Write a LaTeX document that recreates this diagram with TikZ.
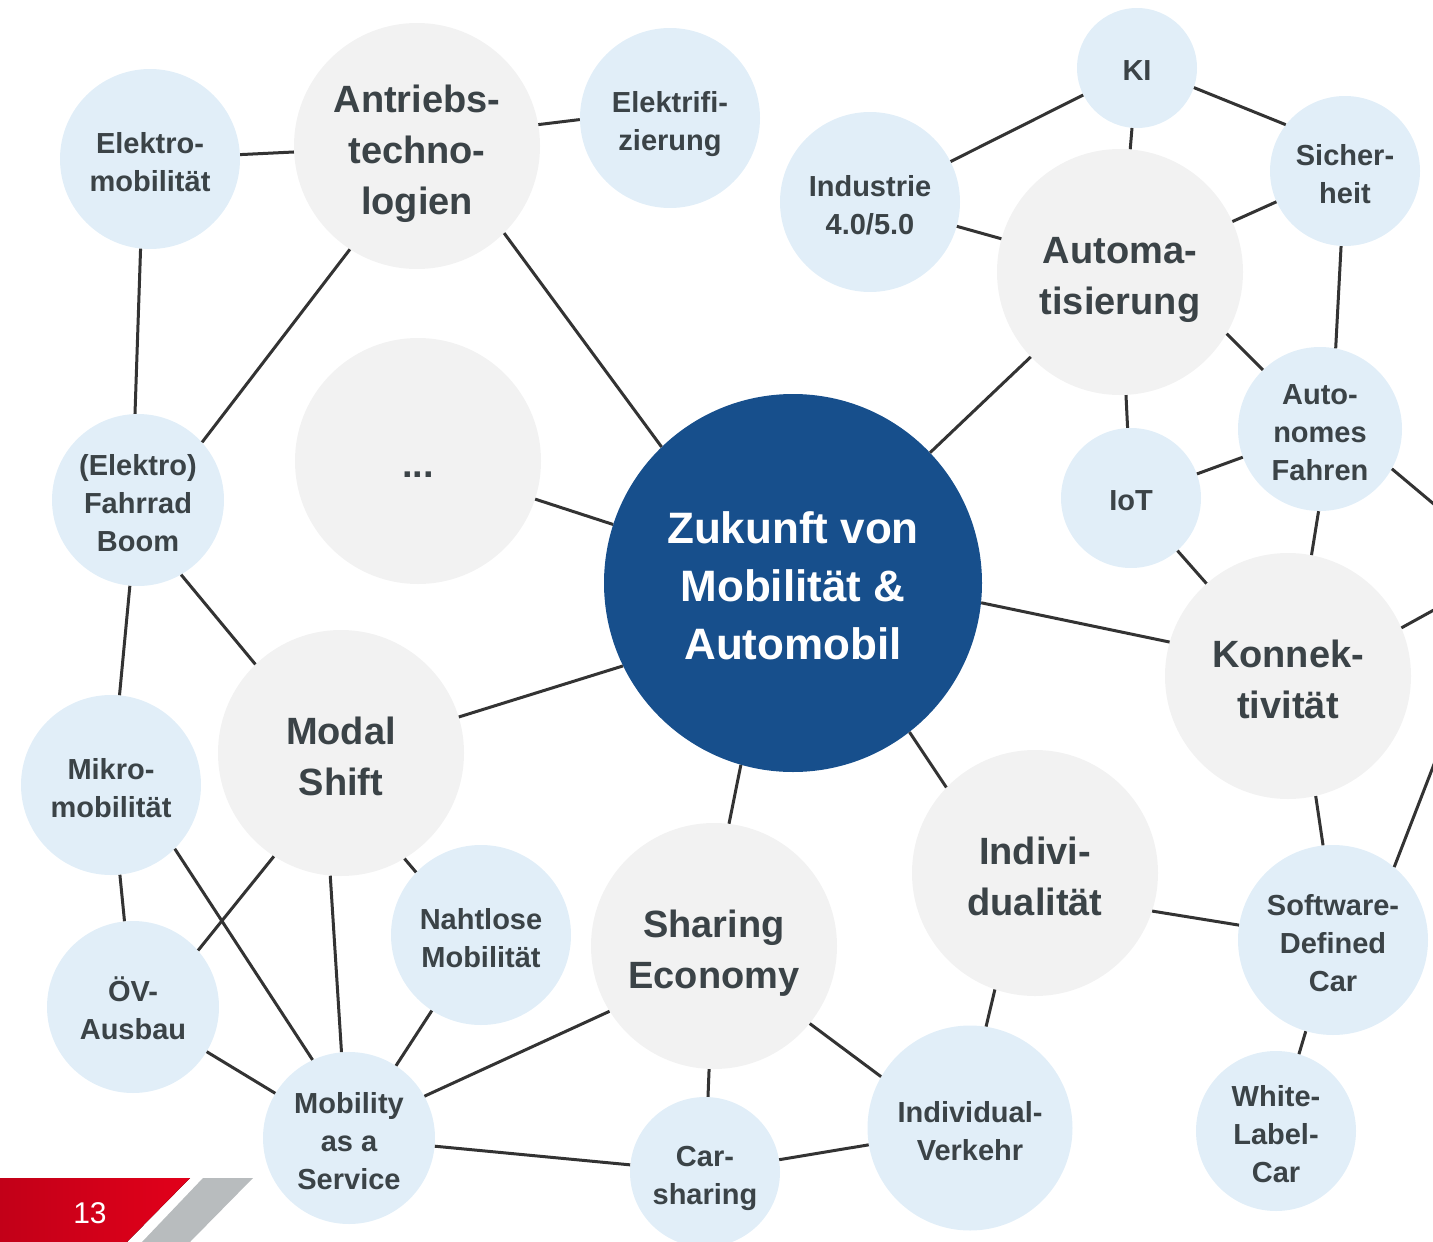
\documentclass[tikz,border=0pt]{standalone}
\usepackage{fontspec}
\setmainfont{Liberation Sans}
\definecolor{txt}{HTML}{3B4347}
\definecolor{bl}{HTML}{E1EEF8}
\definecolor{gr}{HTML}{F2F2F2}
\definecolor{core}{HTML}{174F8C}
\definecolor{ln}{HTML}{333333}
\definecolor{redA}{HTML}{C20018}
\definecolor{redB}{HTML}{E2001A}
\definecolor{badgegray}{HTML}{B8BCBE}
\newcommand\firstl[1][0.9em]{\rule{0pt}{#1}}
\tikzset{
 bub/.style={circle, inner sep=0pt, align=center, text=txt},
 big/.style={bub, fill=gr, minimum size=246pt, font=\fontsize{38}{51}\selectfont\bfseries,
   text depth=0pt},
 sm/.style={bub, fill=bl, font=\fontsize{29}{38}\selectfont\bfseries, text depth=0pt},
 bigone/.style={bub, fill=gr, minimum size=246pt, font=\fontsize{38}{51}\selectfont\bfseries,
   execute at begin node={\rule{0pt}{42pt}}, execute at end node={\rule[-10pt]{0pt}{10pt}}},
 smone/.style={bub, fill=bl, font=\fontsize{29}{38}\selectfont\bfseries,
   execute at begin node={\rule{0pt}{32pt}}, execute at end node={\rule[-8pt]{0pt}{8pt}}},
 core/.style={circle, inner sep=0pt, fill=core, text=white, align=center,
   font=\fontsize{44}{58}\selectfont\bfseries, text depth=0pt},
 link/.style={draw=ln, line width=3pt},
}
\begin{document}
\begin{tikzpicture}[x=1pt,y=-1pt]
\useasboundingbox (0,0) rectangle (1433,1242);
\clip (0,0) rectangle (1433,1242);
% nodes
\node[big] (ant) at (417,146) {\firstl Antriebs-\\techno-\\logien};
\node[sm, minimum size=180pt] (elf) at (670,118) {\firstl Elektrifi-\\zierung};
\node[sm, minimum size=180pt] (elm) at (150,159) {\firstl Elektro-\\mobilität};
\node[sm, minimum size=172pt] (fah) at (138,500) {\firstl (Elektro)\\Fahrrad\\Boom};
\node[bigone] (dots) at (418,461) {...};
\node[big] (mod) at (341,753) {\firstl Modal\\Shift};
\node[sm, minimum size=180pt] (mik) at (111,785) {\firstl Mikro-\\mobilität};
\node[sm, minimum size=172pt] (oev) at (133,1007) {\firstl ÖV-\\Ausbau};
\node[sm, minimum size=180pt] (nah) at (481,935) {\firstl Nahtlose\\Mobilität};
\node[sm, minimum size=172pt] (maas) at (349,1138) {\firstl Mobility\\as a\\Service};
\node[big] (sha) at (714,946) {\firstl Sharing\\Economy};
\node[sm, minimum size=150pt] (car) at (705,1172) {\firstl Car-\\sharing};
\node[big] (ind) at (1035,873) {\firstl Indivi-\\dualität};
\node[sm, minimum size=205pt] (iv) at (970,1128) {\firstl Individual-\\Verkehr};
\node[big] (kon) at (1288,676) {\firstl Konnek-\\tivität};
\node[sm, minimum size=190pt] (sdc) at (1333,940) {\firstl Software-\\Defined\\Car};
\node[sm, minimum size=160pt] (wlc) at (1276,1131) {\firstl White-\\Label-\\Car};
\node[smone, minimum size=140pt] (iot) at (1131,498) {IoT};
\node[sm, minimum size=164pt] (afa) at (1320,429) {\firstl Auto-\\nomes\\Fahren};
\node[big] (aut) at (1120,272) {\firstl Automa-\\tisierung};
\node[sm, minimum size=180pt] (inu) at (870,202) {\firstl Industrie\\4.0/5.0};
\node[smone, minimum size=120pt] (ki) at (1137,68) {KI};
\node[sm, minimum size=150pt] (sic) at (1345,171) {\firstl Sicher-\\heit};
\node[core, minimum size=378pt] (zuk) at (793,583) {\firstl[0.82em]Zukunft von\\Mobilität \&\\Automobil};
\coordinate (off) at (1510,568);
% connectors
\draw[link] (elm) -- (ant);
\draw[link] (ant.10) -- (elf.181);
\draw[link] (ant.-45) -- (zuk.134);
\draw[link] (ant.-123) -- (fah.42);
\draw[link] (elm.-96) -- (fah.92);
\draw[link] (dots) -- (zuk);
\draw[link] (fah.-60) -- (mod.134);
\draw[link] (fah) -- (mik);
\draw[link] (mod.17) -- (zuk.206);
\draw[link] (mik) -- (oev);
\draw[link] (mik.-45) -- (maas.115);
\draw[link] (mod.-123) -- (oev.41);
\draw[link] (mod.-95) -- (maas.95);
\draw[link] (mod.-59) -- (nah.136);
\draw[link] (oev) -- (maas);
\draw[link] (nah) -- (maas);
\draw[link] (sha.-148) -- (maas.29);
\draw[link] (maas) -- (car);
\draw[link] (sha) -- (car);
\draw[link] (sha.-39) -- (iv.150);
\draw[link] (zuk.-106) -- (sha.83);
\draw[link] (zuk.-52) -- (ind.136);
\draw[link] (ind.-109) -- (iv.81);
\draw[link] (car) -- (iv);
\draw[link] (ind.-18) -- (sdc.171);
\draw[link] (kon.-77) -- (sdc.96);
\draw[link] (sdc) -- (wlc);
\draw[link] (sdc.50) -- (off);
\draw[link] (kon.23) -- (off);
\draw[link] (afa.-29) -- (off);
\draw[link] (zuk.-6) -- (kon.164);
\draw[link] (zuk) -- (aut);
\draw[link] (iot) -- (kon);
\draw[link] (iot) -- (afa);
\draw[link] (iot) -- (aut);
\draw[link] (aut.-30) -- (afa.134);
\draw[link] (afa.-91) -- (kon.79);
\draw[link] (afa.79) -- (sic.-93);
\draw[link] (aut) -- (sic);
\draw[link] (aut) -- (ki);
\draw[link] (aut) -- (inu);
\draw[link] (inu) -- (ki);
\draw[link] (ki.-19) -- (sic.142);
% page badge
\fill[left color=redA, right color=redB] (0,1178) -- (190,1178) -- (127,1242) -- (0,1242) -- cycle;
\fill[badgegray] (203,1178) -- (253,1178) -- (190,1242) -- (142,1242) -- cycle;
\node[text=white, inner sep=0pt, font=\fontsize{30}{36}\selectfont] (pg) at (90,1213) {13};
\end{tikzpicture}
\end{document}
